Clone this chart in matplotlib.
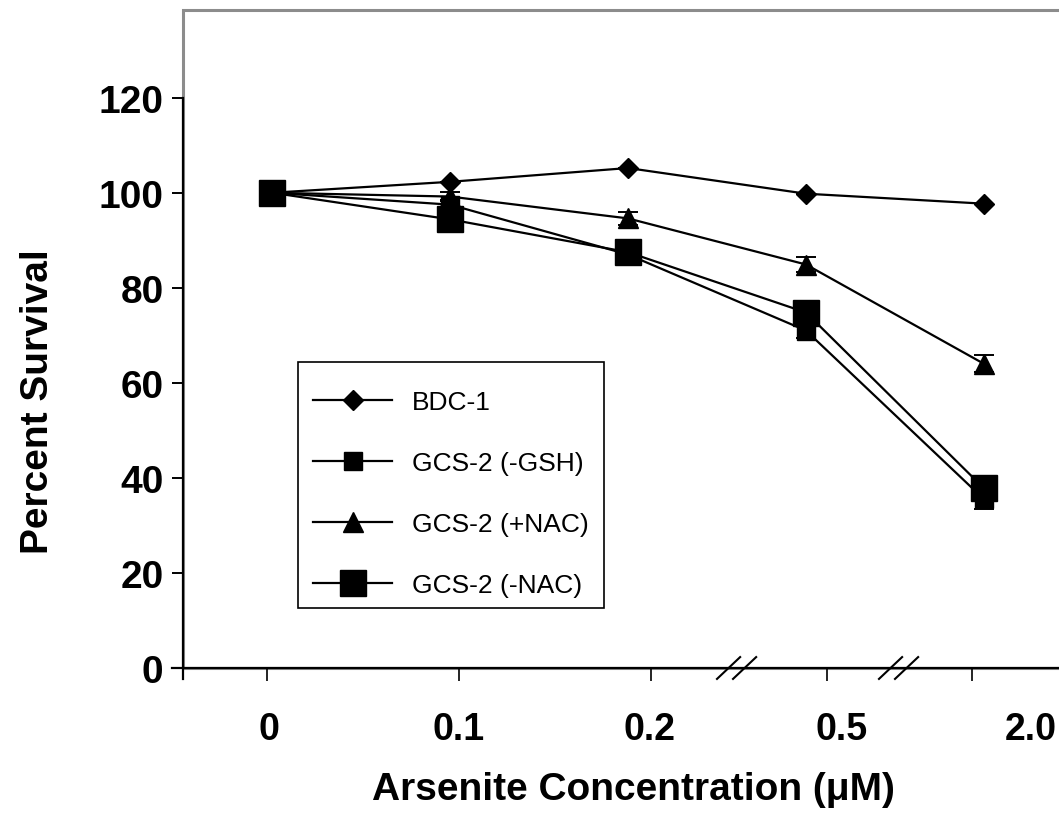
import matplotlib
matplotlib.use("Agg")
import matplotlib.pyplot as plt
from matplotlib.patches import Rectangle

plt.rcParams['font.family'] = ['Liberation Sans', 'DejaVu Sans']

# ---- data ----
concentrations = ['0', '0.1', '0.2', '0.5', '2.0']
bdc1 = [100, 102.3, 105.2, 99.8, 97.7]
gcs2_gsh = [100, 97.5, 87.0, 71.0, 35.5]
gcs2_nac_plus = [100, 99.2, 94.6, 84.9, 64.0]
gcs2_nac_minus = [100, 94.4, 87.5, 74.8, 37.8]
err_bdc1 = [0, 0, 0, 0, 0]
err_gsh = [0, 1.0, 1.0, 1.5, 2.0]
err_nac_plus = [0, 1.0, 1.3, 1.5, 1.8]
err_nac_minus = [0, 1.0, 0.5, 1.5, 1.5]
series_names = ['BDC-1', 'GCS-2 (-GSH)', 'GCS-2 (+NAC)', 'GCS-2 (-NAC)']
yticks = [0, 20, 40, 60, 80, 100, 120]

# ---- layout ----
W, H = 1059, 820
fig = plt.figure(figsize=(W / 100, H / 100), dpi=100)
ax_left, ax_right, ax_bottom, ax_top = 183, 1065, 669, 11
ax = fig.add_axes([ax_left / W, 1 - ax_bottom / H,
                   (ax_right - ax_left) / W, (ax_bottom - ax_top) / H])

xpos = list(range(len(concentrations)))
tick_marks = [-0.028, 1.05, 2.13, 3.12, 3.93]
label_marks = [-0.017, 1.05, 2.12, 3.20, 4.26]

styles = [
    dict(marker='D', ms=10.5),
    dict(marker='s', ms=12.5),
    dict(marker='^', ms=15),
    dict(marker='s', ms=18.5),
]
values = [bdc1, gcs2_gsh, gcs2_nac_plus, gcs2_nac_minus]
errs = [err_bdc1, err_gsh, err_nac_plus, err_nac_minus]
handles = []
for name, vals, e, st in zip(series_names, values, errs, styles):
    cont = ax.errorbar(xpos, vals, yerr=e, color='black', lw=1.6, capsize=7,
                       capthick=1.4, elinewidth=1.4, marker=st['marker'],
                       ms=st['ms'], mfc='black', mec='black', label=name)
    handles.append(cont[0])

ax.set_xlim(-0.5, (ax_right - 272) / 178)
ax.set_ylim(0, (669 - 11) / 4.7525)

# spines
for s in ['top', 'right']:
    ax.spines[s].set_visible(False)
ax.spines['left'].set_bounds(-2.4, 120)
ax.spines['left'].set_linewidth(1.6)
ax.spines['bottom'].set_linewidth(1.6)
ax.spines['bottom'].set_bounds(-0.56, ax.get_xlim()[1])
# gray plot-area frame
ax.add_patch(Rectangle((0, 0), 1, 1, transform=ax.transAxes, fill=False,
                       edgecolor='#8c8c8c', lw=2.2, zorder=0.5, clip_on=False))

ax.set_yticks(yticks)
ax.set_yticklabels([str(v) for v in yticks], fontsize=28, fontweight='bold')
ax.tick_params(axis='y', direction='out', length=8, width=1.4, pad=6)

ax.xaxis.remove_overlapping_locs = False
ax.set_xticks(tick_marks)
ax.set_xticklabels([''] * len(tick_marks))
ax.tick_params(axis='x', which='major', direction='out', length=9, width=1.2)
ax.set_xticks(label_marks, minor=True)
ax.set_xticklabels(concentrations, minor=True, fontsize=27, fontweight='bold')
ax.tick_params(axis='x', which='minor', length=0, pad=31)

# axis breaks
for bx in [2.61, 3.52]:
    for off in [-0.045, 0.045]:
        ax.plot([bx + off - 0.065, bx + off + 0.065], [-2.3, 2.3],
                color='black', lw=1.5, clip_on=False, zorder=5)

fig.text(38 / W, 1 - 402 / H, 'Percent Survival', rotation=90,
         ha='center', va='center', fontsize=28, fontweight='bold')
fig.text(633 / W, 1 - 790 / H, 'Arsenite Concentration (\u03bcM)',
         ha='center', va='center', fontsize=28, fontweight='bold')

# legend box
fig.patches.append(Rectangle((298 / W, 1 - 609 / H), (604 - 298) / W,
                             (609 - 363) / H, transform=fig.transFigure,
                             fill=False, edgecolor='black', lw=1.2,
                             zorder=3))
leg = ax.legend(handles, series_names, loc='upper left',
                bbox_to_anchor=(313 / W, 1 - 391 / H),
                bbox_transform=fig.transFigure,
                fontsize=19, frameon=False,
                handlelength=3.0, handletextpad=0.75,
                labelspacing=1.4, borderpad=0, borderaxespad=0)

fig.savefig('out.png', dpi=100)
